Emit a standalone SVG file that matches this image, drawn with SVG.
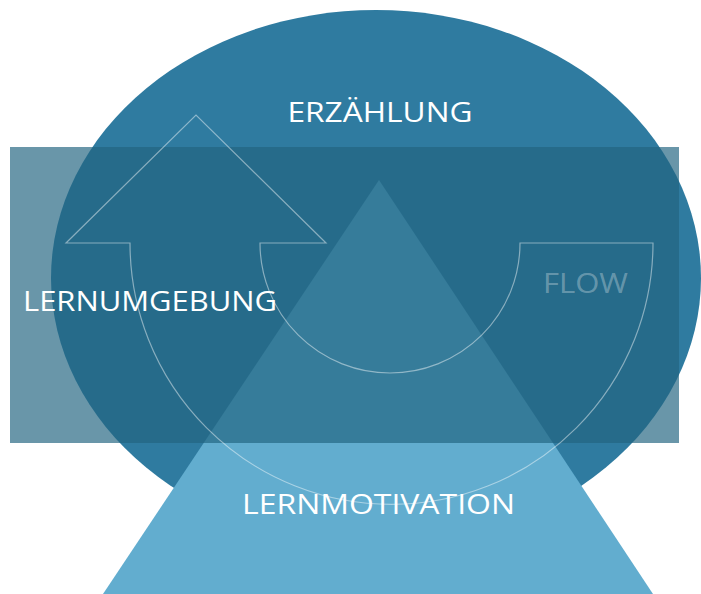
<svg xmlns="http://www.w3.org/2000/svg" width="701" height="594" viewBox="0 0 701 594">
  <style>
    .label { font-family: "Open Sans", "Liberation Sans", sans-serif; font-size: 28px; fill: #ffffff; }
    .muted { fill: #ffffff; fill-opacity: 0.3; }
    .outline { fill: none; stroke: #ffffff; stroke-opacity: 0.45; stroke-width: 1.2; stroke-linejoin: miter; }
  </style>
  <rect x="0" y="0" width="701" height="594" fill="#ffffff"/>

  <!-- story layer: large ellipse -->
  <g id="erzaehlung">
    <ellipse cx="376" cy="278" rx="325" ry="268" fill="#2f7ba0"/>
    <text class="label" x="380" y="122" text-anchor="middle" textLength="185" lengthAdjust="spacingAndGlyphs">ERZÄHLUNG</text>
  </g>

  <!-- motivation layer: triangle -->
  <g id="lernmotivation">
    <polygon points="379,180 103,594 653,594" fill="#62adcf"/>
  </g>

  <!-- environment layer: translucent band -->
  <g id="lernumgebung">
    <rect x="10" y="147" width="669" height="296" fill="#226480" fill-opacity="0.68"/>
    <text class="label" x="150" y="311" text-anchor="middle" textLength="254" lengthAdjust="spacingAndGlyphs">LERNUMGEBUNG</text>
  </g>

  <!-- flow: U-shaped arrow outline -->
  <g id="flow">
    <path class="outline" d="M 130 243 L 66 243 L 196 115 L 326 243 L 260 243 A 130 130 0 0 0 520 243 L 653 243 A 261.5 261.5 0 0 1 130 243 Z"/>
    <text class="label muted" x="585.5" y="293" text-anchor="middle" textLength="85" lengthAdjust="spacingAndGlyphs">FLOW</text>
  </g>

  <g id="lernmotivation-label">
    <text class="label" x="378.5" y="514" text-anchor="middle" textLength="273" lengthAdjust="spacingAndGlyphs">LERNMOTIVATION</text>
  </g>

  <g id="connectors"></g>
</svg>
